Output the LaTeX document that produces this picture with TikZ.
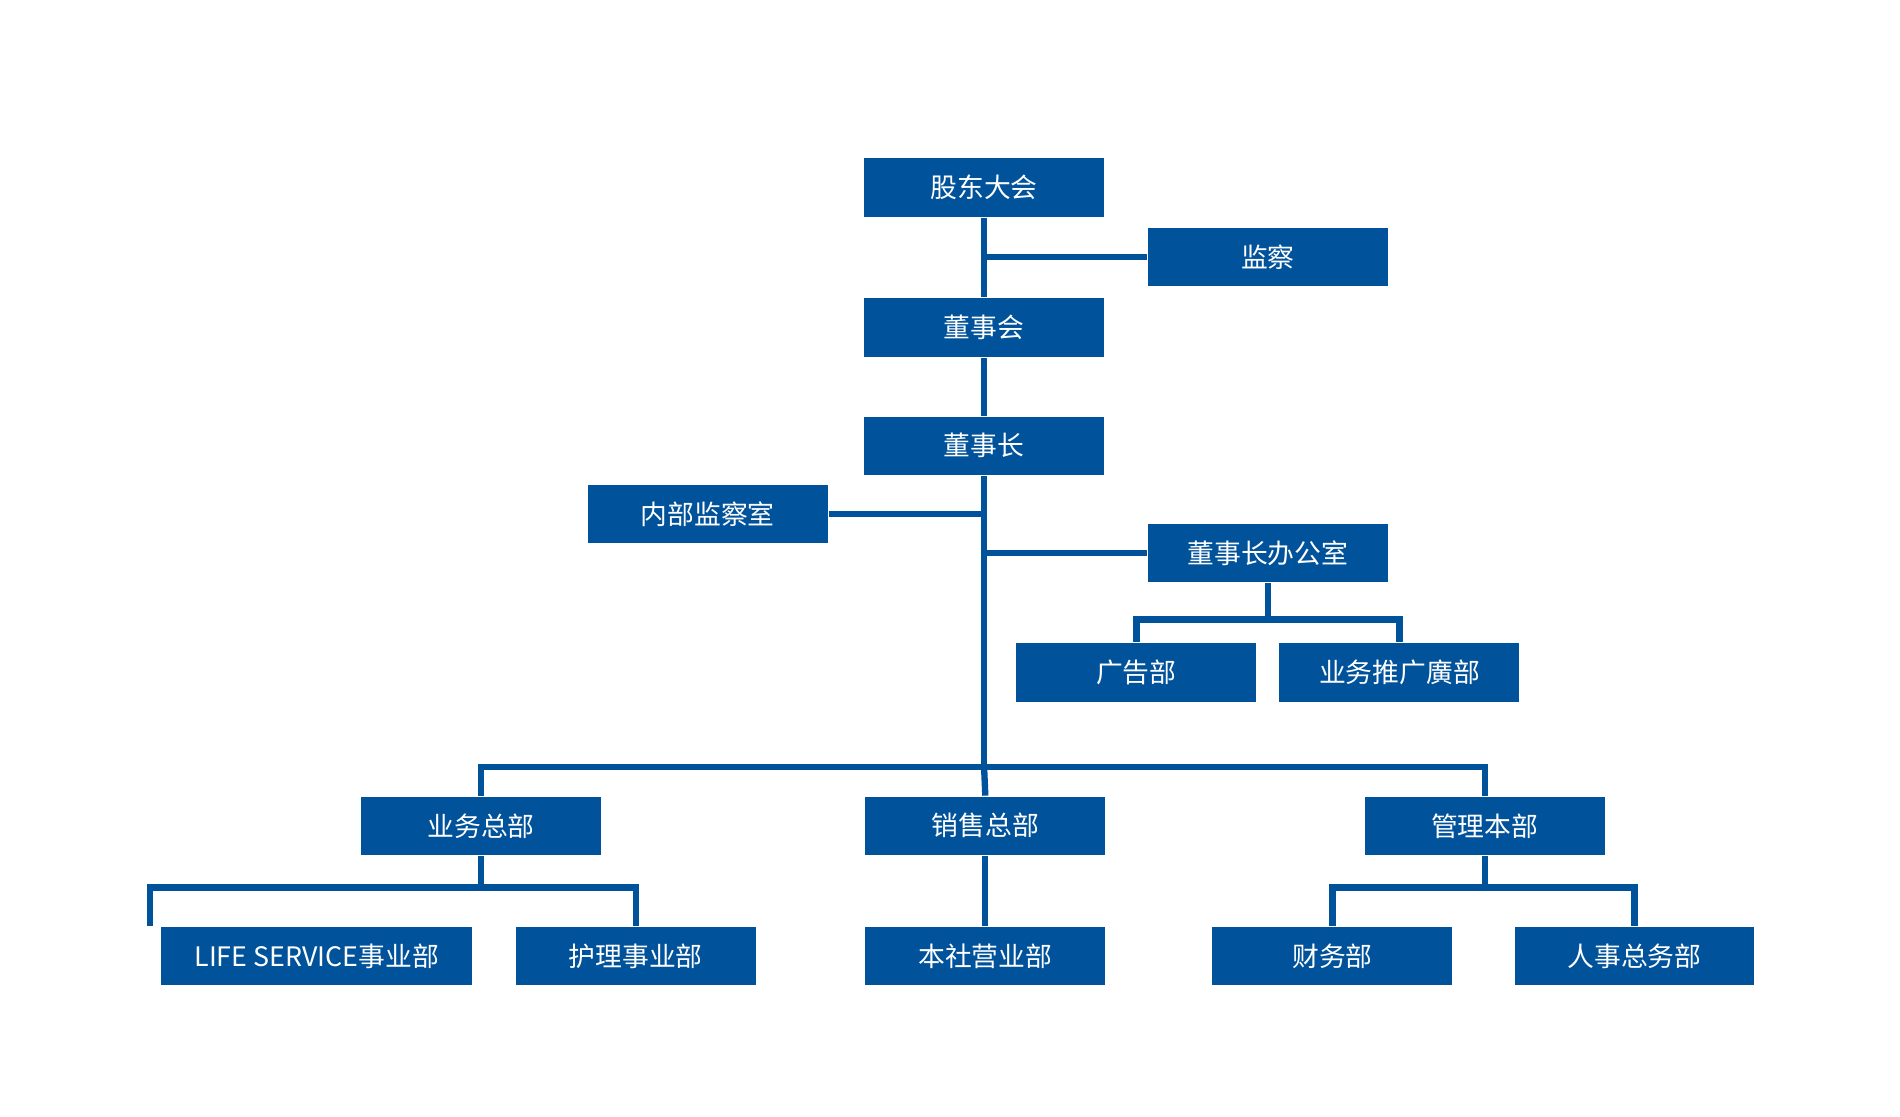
\documentclass[tikz,border=0pt]{standalone}
\usepackage{fontspec}
\setmainfont{Noto Sans CJK SC}
\definecolor{orgblue}{RGB}{0,82,155}
\tikzset{every picture/.style={line width=0.75pt}}
\tikzset{
  unit/.style={fill=orgblue, text=white, minimum width=98.5pt, minimum height=24pt, inner sep=0pt, font=\fontsize{11}{13}\selectfont},
  link/.style={draw=orgblue, line width=2.6pt}
}
\begin{document}
\begin{tikzpicture}[x=0.5pt,y=0.5pt,yscale=-1,xscale=1]
	\useasboundingbox (0,0) rectangle (1560,917);

	% Text Node
	\node [unit] (gm) at (808,154) {股东大会};
	% Text Node
	\node [unit] (audit) at (1041,211) {监察};
	% Text Node
	\node [unit] (board) at (808,269) {董事会};
	% Text Node
	\node [unit] (chair) at (808,366) {董事长};
	% Text Node
	\node [unit] (inner) at (581,422) {内部监察室};
	% Text Node
	\node [unit] (office) at (1041,454) {董事长办公室};
	% Text Node
	\node [unit] (ad) at (933,552) {广告部};
	% Text Node
	\node [unit] (promo) at (1149,552) {业务推广廣部};
	% Text Node
	\node [unit] (biz) at (395,678) {业务总部};
	% Text Node
	\node [unit] (sales) at (809,678) {销售总部};
	% Text Node
	\node [unit] (admin) at (1219,678) {管理本部};
	% Text Node
	\node [unit, minimum width=127.5pt] (life) at (260,785) {LIFE SERVICE事业部};
	% Text Node
	\node [unit] (care) at (522,785) {护理事业部};
	% Text Node
	\node [unit] (hq) at (809,785) {本社营业部};
	% Text Node
	\node [unit] (fin) at (1094,785) {财务部};
	% Text Node
	\node [unit] (hr) at (1342,785) {人事总务部};

	\coordinate (bus) at (808,630);

	% trunk
	\draw [link] (gm.south) -- (board.north);
	\draw [link] (board.south) -- (chair.north);
	\draw [link] (chair.south) -- (bus);
	\draw [link] (audit.west) -- (gm.south |- audit.west);
	\draw [link] (inner.east) -- (chair.south |- inner.east);
	\draw [link] (office.west) -- (chair.south |- office.west);
	% office
	\draw [link] (office.south) -- ++(0,30) -| (ad.north);
	\draw [link] (office.south) ++(0,30) -| (promo.north);
	% bus
	\draw [link] (biz.north) |- (bus) -| (admin.north);
	\draw [link] (bus) -- (sales.north);
	% branches
	\draw [link] (biz.south) -- ++(0,26) -| ([xshift=-68.5pt]life.north);
	\draw [link] (biz.south) ++(0,26) -| (care.north);
	\draw [link] (sales.south) -- (hq.north);
	\draw [link] (admin.south) -- ++(0,26) -| (fin.north);
	\draw [link] (admin.south) ++(0,26) -| (hr.north);

\end{tikzpicture}
\end{document}
